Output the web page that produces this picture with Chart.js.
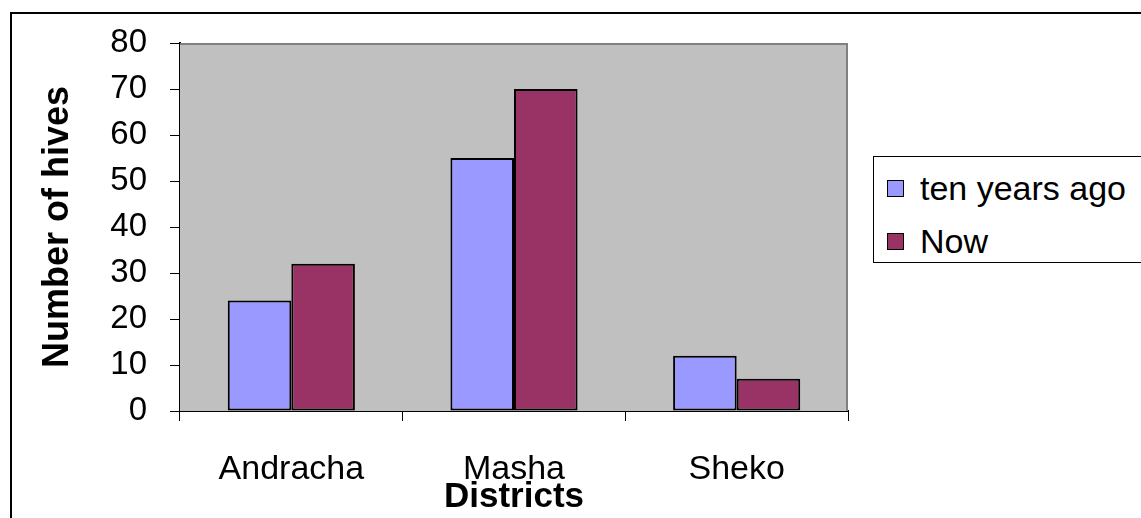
<!DOCTYPE html>
<html><head><meta charset="utf-8">
<script src="https://cdn.jsdelivr.net/npm/chart.js@4"></script>
<style>
html,body{margin:0;padding:0;background:#fff;width:1141px;height:518px;overflow:hidden;}
#frame{position:absolute;left:10px;top:12px;width:1200px;height:600px;border:2px solid #000;}
#c{position:absolute;left:0;top:0;}
#legend{position:absolute;left:873px;top:156px;width:300px;height:105px;border:1px solid #000;background:#fff;font-family:'Liberation Sans',Arial,sans-serif;font-size:34px;color:#000;}
.item{position:absolute;left:13px;height:40px;display:flex;align-items:center;white-space:nowrap;}
.sw{width:15px;height:15px;border:1px solid #000;margin-right:16px;}
</style></head>
<body>
<div id="frame"></div>
<canvas id="c" width="1141" height="518"></canvas>
<div id="legend"></div>
<script>
const categories = ['Andracha', 'Masha', 'Sheko'];
const seriesNames = ['ten years ago', 'Now'];
const tenYearsAgo = [24, 55, 12];
const nowValues = [32, 70, 7];
const yMin = 0, yMax = 80, yStep = 10;
const colors = ['#9999FF', '#993366'];

Chart.defaults.font.family = "'Liberation Sans', Arial, sans-serif";
Chart.defaults.color = '#000';

const plotBg = {
  id: 'plotBg',
  beforeDatasetsDraw(chart) {
    const {ctx, chartArea: a} = chart;
    ctx.save();
    ctx.fillStyle = '#C0C0C0';
    ctx.fillRect(a.left, a.top, a.right - a.left, a.bottom - a.top);
    ctx.strokeStyle = '#808080';
    ctx.lineWidth = 2;
    ctx.beginPath();
    ctx.moveTo(a.left, a.top + 1);
    ctx.lineTo(a.right - 1, a.top + 1);
    ctx.lineTo(a.right - 1, a.bottom);
    ctx.stroke();
    ctx.restore();
  }
};

const chart = new Chart(document.getElementById('c'), {
  type: 'bar',
  data: {
    labels: categories,
    datasets: [
      {label: seriesNames[0], data: tenYearsAgo, backgroundColor: colors[0]},
      {label: seriesNames[1], data: nowValues, backgroundColor: colors[1]}
    ].map(d => Object.assign(d, {borderColor: '#000', borderWidth: 2, borderSkipped: false,
      categoryPercentage: 0.571, barPercentage: 1.0}))
  },
  options: {
    responsive: false,
    animation: false,
    devicePixelRatio: 1,
    layout: {padding: {left: 0, top: 43, right: 293, bottom: 0}},
    plugins: {legend: {display: false}, tooltip: {enabled: false}},
    scales: {
      x: {
        afterFit(s) { s.height = 107; },
        grid: {drawOnChartArea: false, tickLength: 10, color: '#000', lineWidth: 1},
        border: {display: true, color: '#000', width: 2},
        ticks: {font: {size: 34}, padding: 28, color: '#000'},
        title: {display: true, text: 'Districts', font: {size: 35, weight: 'bold'}, padding: {top: 0, bottom: 0}, color: '#000'}
      },
      y: {
        min: yMin, max: yMax,
        afterFit(s) { s.width = 180; },
        grid: {drawOnChartArea: false, tickLength: 10, color: '#000', lineWidth: 1},
        border: {display: true, color: '#000', width: 2},
        ticks: {stepSize: yStep, font: {size: 33}, padding: 23, color: '#000'},
        title: {display: true, text: 'Number of hives', font: {size: 36, weight: 'bold'}, padding: {top: 36, bottom: 0}, color: '#000'}
      }
    }
  },
  plugins: [plotBg]
});

const leg = document.getElementById('legend');
const tops = [11, 64];
chart.data.datasets.forEach((d, i) => {
  const it = document.createElement('div');
  it.className = 'item';
  it.style.top = tops[i] + 'px';
  const sw = document.createElement('span');
  sw.className = 'sw';
  sw.style.background = d.backgroundColor;
  const tx = document.createElement('span');
  tx.textContent = d.label;
  it.appendChild(sw); it.appendChild(tx);
  leg.appendChild(it);
});
</script>
</body></html>
